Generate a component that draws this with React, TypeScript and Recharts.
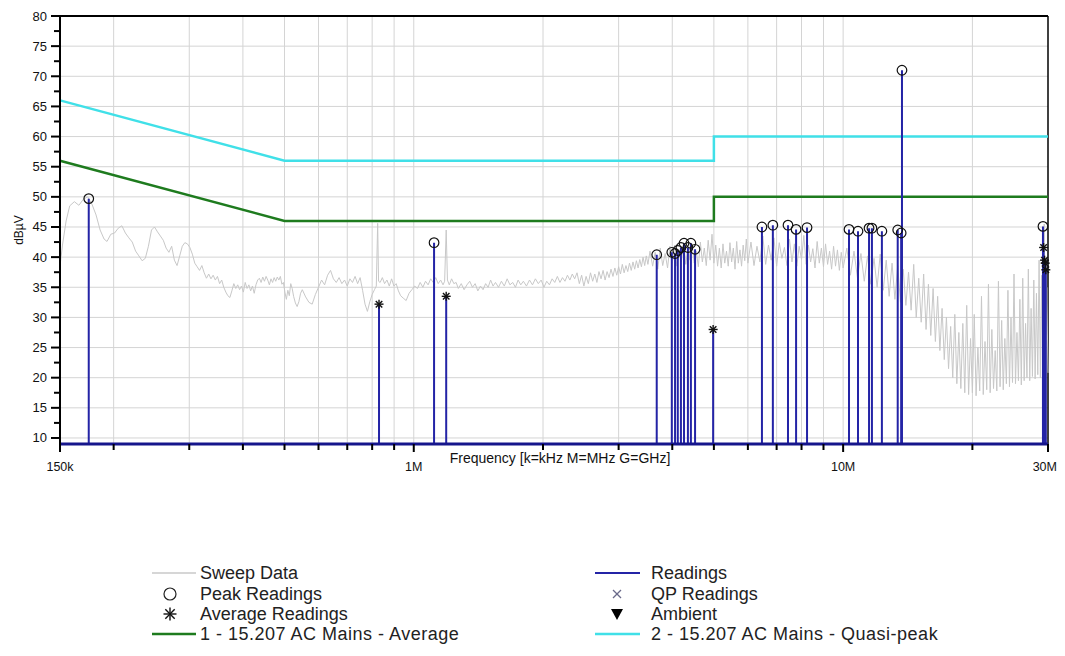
import React from "react";
import {
  ComposedChart,
  Line,
  Scatter,
  XAxis,
  YAxis,
  CartesianGrid,
  ReferenceLine,
} from "recharts";

// frequency in kHz, level in dBuV
const sweepData: [number, number][] = [
  [150, 38.5], [152, 42], [155, 46], [158, 48.5], [162, 49.2], [166, 48.6], [170, 49.6], [174, 50],
  [178, 48.8], [182, 47], [186, 44.5], [190, 43], [193, 42.6], [197, 43.8], [201, 44], [205, 44.8],
  [209, 45.2], [213, 44], [217, 43.2], [221, 42.5], [225, 41], [229, 40.2], [233, 39.4], [237, 39.8],
  [241, 41.8], [245, 44.5], [249, 45], [253, 44.2], [257, 43.5], [261, 42.8], [265, 41.5], [269, 40.8],
  [273, 41.8], [277, 39.5], [281, 38.6], [285, 40.2], [289, 41.8], [293, 42.4], [297, 42.2], [301, 41.6],
  [305, 40.5], [309, 39], [313, 38.4], [317, 37.8], [321, 38.6], [325, 37.4], [329, 36.5], [333, 37.2],
  [337, 36.4], [341, 37], [345, 36.2], [349, 36.8], [353, 35.6], [357, 36.2], [361, 35], [365, 34.2],
  [369, 33.6], [373, 33.3], [377, 34.4], [381, 35.6], [385, 34.8], [389, 35.4], [393, 34.6], [397, 35.2],
  [401, 34.2], [405, 35.8], [409, 34.8], [413, 35.4], [417, 34.4], [421, 35.2], [425, 34], [429, 35.4],
  [433, 36.2], [437, 36.5], [441, 35.8], [445, 36.7], [449, 36], [453, 36.8], [457, 36.2], [461, 35.4],
  [465, 36.4], [469, 35.8], [473, 36.6], [477, 36], [481, 36.7], [485, 36.2], [489, 36.8], [493, 35.5],
  [497, 35.8], [501, 34.2], [505, 33], [509, 34.5], [513, 33.6], [517, 35.6], [521, 34.8], [525, 33.5],
  [530, 32.4], [535, 31.8], [540, 32.6], [545, 34], [550, 34.6], [560, 33.4], [570, 32.5], [580, 32.2],
  [590, 33.8], [600, 35], [610, 36.2], [620, 35.4], [630, 37], [640, 37.8], [650, 36.4], [660, 35.8],
  [670, 36.6], [680, 35.6], [690, 36.2], [700, 35.2], [710, 36.4], [720, 35.8], [730, 36.8], [740, 35.6],
  [750, 36.6], [760, 34.5], [770, 32.2], [780, 31], [790, 32.6], [800, 33.8], [810, 34.6], [818, 35.2],
  [824, 45.6], [828, 36], [835, 35.8], [845, 36.6], [855, 35.6], [866, 36.2], [877, 35.2], [888, 36.4],
  [899, 35.2], [910, 35.6], [921, 34.4], [932, 33.6], [945, 33.2], [960, 32.8], [975, 34], [990, 34.6],
  [1005, 35.2], [1020, 34.8], [1035, 35.8], [1050, 35], [1065, 36], [1080, 35.4], [1095, 36.4], [1110, 35.8],
  [1125, 36.6], [1140, 35.6], [1155, 36.2], [1170, 35.4], [1180, 36], [1190, 44.5], [1198, 36.2], [1210, 35.4],
  [1225, 36.4], [1240, 35.6], [1255, 35.8], [1270, 34.8], [1290, 35.6], [1310, 34.6], [1330, 35.4], [1350, 36],
  [1370, 35], [1390, 35.6], [1410, 34.4], [1430, 35.2], [1450, 34.6], [1470, 35.6], [1490, 35], [1510, 36.2],
  [1530, 35.2], [1550, 35.8], [1575, 35], [1600, 36], [1625, 35.2], [1650, 36.4], [1675, 35.4], [1700, 35.8],
  [1725, 35], [1750, 36.2], [1775, 35.4], [1800, 36], [1830, 35.2], [1860, 36.2], [1890, 35.4], [1920, 36.4],
  [1950, 35.6], [1980, 36.2], [2010, 35], [2040, 36], [2070, 35.4], [2100, 36.4], [2130, 35.8], [2160, 36.8],
  [2190, 35.8], [2220, 36.6], [2250, 36], [2280, 37], [2310, 36.2], [2340, 37.2], [2370, 36.4], [2400, 37.4],
  [2430, 35.6], [2460, 37], [2490, 35.2], [2520, 36.8], [2550, 35.6], [2580, 37.4], [2610, 36], [2640, 37.2],
  [2670, 35.8], [2700, 37.6], [2730, 36.4], [2760, 37.8], [2790, 36.2], [2820, 37.6], [2850, 36.6], [2880, 38],
  [2910, 36.8], [2940, 38.2], [2970, 37], [3000, 38.4], [3030, 37.2], [3060, 38.8], [3090, 37.4], [3120, 38.6],
  [3150, 37.6], [3180, 39], [3210, 37.8], [3240, 39.2], [3270, 38], [3300, 39.4], [3330, 38.2], [3360, 39.6],
  [3390, 38.4], [3420, 40], [3450, 38.6], [3480, 40.2], [3510, 38.8],
  [3550, 41], [3600, 38.5], [3650, 40.8], [3700, 38], [3750, 41.5], [3800, 38.6], [3850, 40.6], [3900, 38.2],
  [3950, 41.8], [4000, 39], [4050, 42], [4100, 38.5], [4150, 41.2], [4200, 39.2], [4250, 42.4], [4300, 38.8],
  [4350, 41.6], [4400, 39.5], [4450, 42.2], [4500, 39], [4550, 41], [4600, 38.4], [4650, 42.5], [4700, 39.2],
  [4750, 41.5], [4800, 38.6], [4850, 42.8], [4900, 39.5], [4950, 43.8], [5000, 39], [5050, 42], [5100, 38.5],
  [5150, 41.5], [5200, 38.2], [5250, 42.2], [5300, 39], [5350, 41], [5400, 38.5], [5450, 42.4], [5500, 39.2],
  [5550, 41.5], [5600, 38], [5650, 42.6], [5700, 39], [5750, 41.2], [5800, 38.5], [5850, 42], [5900, 39.4],
  [5950, 43], [6000, 39],
  [6100, 42.5], [6200, 38.6], [6300, 41.8], [6400, 39.2], [6500, 43.5], [6600, 38.8], [6700, 42], [6800, 39.5],
  [6900, 43.2], [7000, 38.5], [7100, 42.4], [7200, 39.8], [7300, 41.6], [7400, 38.6], [7500, 43], [7600, 39.2],
  [7700, 42.2], [7800, 38.5], [7900, 41.8], [8000, 39.6], [8100, 43.6], [8200, 38.8], [8300, 42], [8400, 39.2],
  [8500, 41.4], [8600, 38.2], [8700, 42.6], [8800, 39], [8900, 41.5], [9000, 38.4], [9100, 42.2], [9200, 38.8],
  [9300, 41], [9400, 38], [9500, 41.8], [9600, 38.5], [9700, 41.2], [9800, 37.8], [9900, 40.8], [10000, 38.2],
  [10200, 41.5], [10400, 37], [10600, 41], [10800, 36.5], [11000, 40.6], [11200, 36], [11400, 40.2], [11600, 35.5],
  [11800, 39.8], [12000, 35], [12200, 40.5], [12400, 34.5], [12600, 39.5], [12800, 33.5], [13000, 39], [13200, 33],
  [13400, 38.6], [13600, 32.5], [13800, 38], [14000, 32], [14200, 37.5], [14400, 31.2], [14600, 38.8], [14800, 30],
  [15000, 36.5], [15200, 29.2], [15400, 37.2], [15600, 28], [15800, 35.5], [16000, 27], [16200, 34.8], [16400, 26],
  [16600, 33.5], [16800, 24.5], [17000, 31.5], [17200, 23], [17400, 30], [17600, 21.5], [17800, 28.5], [18000, 20],
  [18200, 30.5], [18400, 19], [18600, 27.5], [18800, 18.2], [19000, 29], [19200, 17.5], [19400, 32], [19600, 17.2],
  [19800, 26.5], [20000, 17.5],
  [20200, 30.5], [20400, 17], [20600, 25], [20800, 17.8], [21000, 33.5], [21200, 17.2], [21400, 26], [21600, 18],
  [21800, 35.5], [22000, 17.5], [22200, 28], [22400, 18.2], [22600, 24.5], [22800, 17.8], [23000, 36], [23200, 18.5],
  [23400, 29.5], [23600, 18], [23800, 26.5], [24000, 19], [24200, 34.5], [24400, 18.5], [24600, 30], [24800, 19.2],
  [25000, 37.2], [25200, 19], [25400, 27.5], [25600, 19.5], [25800, 33], [26000, 18.8], [26200, 36.5], [26400, 19.5],
  [26600, 29], [26800, 20], [27000, 38], [27200, 19.5], [27400, 31.5], [27600, 20.2], [27800, 36.2], [28000, 19.8],
  [28200, 34], [28400, 20.5], [28600, 39.5], [28800, 20], [29000, 37], [29200, 21], [29400, 45.5], [29600, 21.5],
  [29800, 35], [30000, 20.8],
];

const peakReadings: [number, number][] = [
  [175, 49.7], [1115, 42.4], [3680, 40.4], [3990, 40.8], [4060, 40.6], [4120, 41.1], [4190, 41.6],
  [4260, 42.3], [4350, 41.6], [4420, 42.3], [4520, 41.3], [6470, 45.0], [6860, 45.3], [7440, 45.3],
  [7770, 44.6], [8240, 44.9], [10320, 44.6], [10830, 44.3], [11490, 44.8], [11670, 44.8], [12310, 44.3],
  [13400, 44.5], [13650, 44.0], [13710, 71.0], [29200, 45.1],
];

const averageReadings: [number, number][] = [
  [830, 32.2], [1190, 33.5], [4980, 28.0], [29300, 41.6], [29450, 39.5], [29550, 39.0], [29650, 37.9],
];

const averageLimit: [number, number][] = [[150, 56], [500, 46], [5000, 46], [5000, 50], [30000, 50]];
const quasiPeakLimit: [number, number][] = [[150, 66], [500, 56], [5000, 56], [5000, 60], [30000, 60]];

const xTicks = [150, 200, 300, 400, 500, 600, 700, 800, 900, 1000, 2000, 3000, 4000, 5000, 6000, 7000, 8000, 9000, 10000, 20000, 30000];
const xTickLabels: Record<number, string> = { 150: "150k", 1000: "1M", 10000: "10M", 30000: "30M" };
const xGrid = [200, 300, 400, 500, 600, 700, 800, 900, 1000, 2000, 3000, 4000, 5000, 6000, 7000, 8000, 9000, 10000, 20000];
const yTicks = [10, 12.5, 15, 17.5, 20, 22.5, 25, 27.5, 30, 32.5, 35, 37.5, 40, 42.5, 45, 47.5, 50, 52.5, 55, 57.5, 60, 62.5, 65, 67.5, 70, 72.5, 75, 77.5, 80];
const yGrid = [10, 15, 20, 25, 30, 35, 40, 45, 50, 55, 60, 65, 70, 75];
const FLOOR = 9;

const FONT = "'Liberation Sans', Arial, sans-serif";
const STEM = "#2424a6";
const W = 1049;

const toPoints = (rows: [number, number][]) => rows.map(([f, v]) => ({ f, v }));

const readings = [...peakReadings, ...averageReadings].sort((a, b) => a[0] - b[0]);
const stemPoints = [
  { f: 150, v: FLOOR },
  ...readings.flatMap(([f, v]) => [
    { f, v: FLOOR },
    { f, v },
    { f, v: FLOOR },
  ]),
  { f: 30000, v: FLOOR },
];

const XTick = (props: any) => {
  const { x, y, payload } = props;
  const label = xTickLabels[payload.value];
  const last = payload.value === 30000;
  return (
    <g>
      <line x1={x} x2={x} y1={y} y2={y + (label ? 8 : 6)} stroke="#000" strokeWidth={2} />
      {label && (
        <text
          x={last ? x + 9 : x}
          y={y + 27}
          textAnchor={last ? "end" : "middle"}
          fontSize={12.5}
          fontFamily={FONT}
          fill="#111"
        >
          {label}
        </text>
      )}
    </g>
  );
};

const YTick = (props: any) => {
  const { x, y, payload } = props;
  const major = payload.value % 5 === 0;
  return (
    <g>
      <line x1={x - (major ? 9 : 6)} x2={x} y1={y} y2={y} stroke="#000" strokeWidth={2} />
      {major && (
        <text x={x - 13} y={y} dy={4.5} textAnchor="end" fontSize={13} fontFamily={FONT} fill="#111">
          {payload.value}
        </text>
      )}
    </g>
  );
};

const PeakMark = (props: any) => (
  <circle cx={props.cx} cy={props.cy} r={4.8} fill="none" stroke="#111" strokeWidth={1.2} />
);

const AvgMark = (props: any) => {
  const { cx, cy } = props;
  const s = props.arm ?? 4.5;
  const d = s * 0.72;
  return (
    <g stroke="#111" strokeWidth={1.4}>
      <line x1={cx - s} x2={cx + s} y1={cy} y2={cy} />
      <line x1={cx} x2={cx} y1={cy - s} y2={cy + s} />
      <line x1={cx - d} x2={cx + d} y1={cy - d} y2={cy + d} />
      <line x1={cx - d} x2={cx + d} y1={cy + d} y2={cy - d} />
    </g>
  );
};

function Legend() {
  const rows = [85, 106, 126, 146];
  const txt = { fontSize: 18, fontFamily: FONT, fill: "#222", dominantBaseline: "central" as const };
  return (
    <svg width={W} height={160} style={{ display: "block" }}>
      <line x1={144} x2={188} y1={rows[0]} y2={rows[0]} stroke="#c8c8c8" strokeWidth={1.5} />
      <text x={192} y={rows[0]} {...txt}>Sweep Data</text>
      <circle cx={162} cy={rows[1]} r={6} fill="none" stroke="#222" strokeWidth={1.2} />
      <text x={192} y={rows[1]} {...txt}>Peak Readings</text>
      <AvgMark cx={162} cy={rows[2]} arm={6.5} />
      <text x={192} y={rows[2]} {...txt}>Average Readings</text>
      <line x1={144} x2={188} y1={rows[3]} y2={rows[3]} stroke="#1e7b1e" strokeWidth={2.5} />
      <text x={192} y={rows[3]} {...txt} letterSpacing={0.5}>1 - 15.207 AC Mains - Average</text>

      <line x1={587} x2={632} y1={rows[0]} y2={rows[0]} stroke={STEM} strokeWidth={2} />
      <text x={643} y={rows[0]} {...txt}>Readings</text>
      <g stroke="#6a6a8a" strokeWidth={1.2}>
        <line x1={605} x2={613} y1={rows[1] - 4} y2={rows[1] + 4} />
        <line x1={605} x2={613} y1={rows[1] + 4} y2={rows[1] - 4} />
      </g>
      <text x={643} y={rows[1]} {...txt}>QP Readings</text>
      <path d={`M ${603} ${rows[2] - 5} L ${615} ${rows[2] - 5} L ${609} ${rows[2] + 6} Z`} fill="#000" />
      <text x={643} y={rows[2]} {...txt}>Ambient</text>
      <line x1={587} x2={632} y1={rows[3]} y2={rows[3]} stroke="#40e0e8" strokeWidth={2.5} />
      <text x={643} y={rows[3]} {...txt} letterSpacing={0.5}>2 - 15.207 AC Mains - Quasi-peak</text>
    </svg>
  );
}

export default function App() {
  return (
    <div style={{ position: "relative", width: W, background: "#fff" }}>
      <div
        style={{
          position: "absolute",
          left: 11,
          top: 222,
          transform: "translate(-50%, -50%) rotate(-90deg)",
          fontSize: 12,
          fontFamily: FONT,
          color: "#111",
          whiteSpace: "nowrap",
        }}
      >
        dBµV
      </div>
      <ComposedChart width={W} height={480} margin={{ top: 8, right: 9, bottom: 14, left: 0 }}>
        <CartesianGrid
          stroke="#d4d4d4"
          strokeWidth={1}
          horizontalValues={yGrid}
          verticalValues={xGrid}
        />
        <XAxis
          type="number"
          dataKey="f"
          scale="log"
          domain={[150, 30000]}
          ticks={xTicks}
          interval={0}
          height={30}
          tickSize={0}
          tickMargin={0}
          tickLine={false}
          tick={<XTick />}
          axisLine={{ stroke: "#16168c", strokeWidth: 3 }}
          label={{
            value: "Frequency [k=kHz M=MHz G=GHz]",
            position: "insideBottom",
            offset: 11,
            fontSize: 14,
            fontFamily: FONT,
            fill: "#111",
            dx: 6,
          }}
        />
        <YAxis
          type="number"
          domain={[FLOOR, 80]}
          ticks={yTicks}
          interval={0}
          width={52}
          tickSize={0}
          tickMargin={0}
          tickLine={false}
          tick={<YTick />}
          axisLine={{ stroke: "#000", strokeWidth: 2 }}
        />
        <ReferenceLine y={80} stroke="#000" strokeWidth={2} />
        <ReferenceLine x={30000} stroke="#000" strokeWidth={1.5} />
        <Line
          data={toPoints(sweepData)}
          dataKey="v"
          type="linear"
          stroke="#c8c8c8"
          strokeWidth={1}
          dot={false}
          isAnimationActive={false}
        />
        <Line
          data={toPoints(averageLimit)}
          dataKey="v"
          type="linear"
          stroke="#1e7b1e"
          strokeWidth={2.5}
          dot={false}
          isAnimationActive={false}
        />
        <Line
          data={toPoints(quasiPeakLimit)}
          dataKey="v"
          type="linear"
          stroke="#40e0e8"
          strokeWidth={2.5}
          dot={false}
          isAnimationActive={false}
        />
        <Line
          data={stemPoints}
          dataKey="v"
          type="linear"
          stroke={STEM}
          strokeWidth={2}
          dot={false}
          isAnimationActive={false}
        />
        <Scatter data={toPoints(peakReadings)} dataKey="v" shape={<PeakMark />} isAnimationActive={false} />
        <Scatter data={toPoints(averageReadings)} dataKey="v" shape={<AvgMark />} isAnimationActive={false} />
      </ComposedChart>
      <Legend />
    </div>
  );
}
